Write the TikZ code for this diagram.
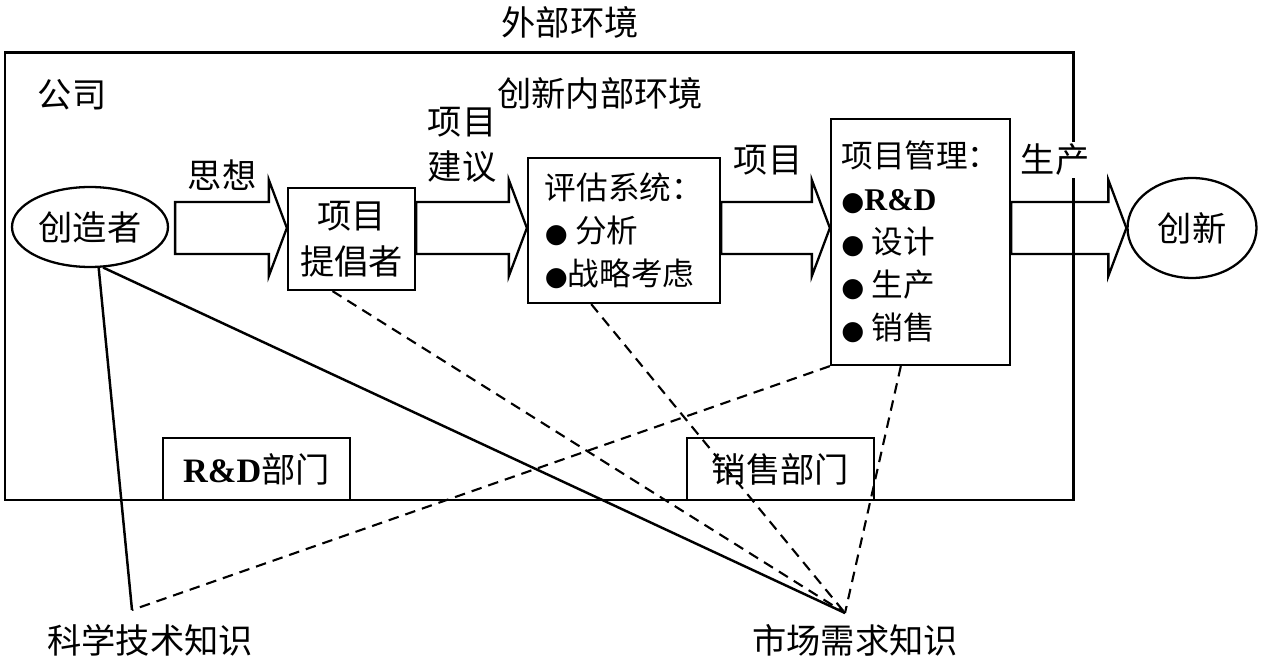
\documentclass[tikz,border=0pt]{standalone}
\usepackage{fontspec}
\setmainfont{Noto Sans CJK SC}
\newfontfamily\rdfont{Liberation Serif}
\newfontfamily\dotfont{DejaVu Sans}
\usetikzlibrary{shapes.geometric,calc}

\newcommand{\dotitem}{{\dotfont\fontsize{15}{15}\selectfont ●}}
\newcommand{\rdname}{{\rdfont\bfseries R\&D}}
% block arrow between two nodes, along the line (axis)
\newcommand{\flowarrow}[3][0]{%
  \draw[flow] ($(#2.east |- axis)+(#1,-26)$) -- ($(#3.west |- axis)+(-18,-26)$)
    -- ($(#3.west |- axis)+(-18,-48)$) -- (#3.west |- axis)
    -- ($(#3.west |- axis)+(-18,48)$) -- ($(#3.west |- axis)+(-18,26)$)
    -- ($(#2.east |- axis)+(#1,26)$) -- cycle;}

\tikzset{
  txt/.style={inner sep=1pt, font=\fontsize{19.5}{26}\selectfont},
  box/.style={draw, line width=1.3pt, inner sep=0pt, font=\fontsize{19.5}{26}\selectfont},
  listbox/.style={box, align=left, font=\fontsize{18}{24.5}\selectfont},
  oval/.style={ellipse, draw, line width=1.3pt, inner sep=0pt, font=\fontsize{19.5}{26}\selectfont},
  flow/.style={line width=1.3pt, line join=miter},
  frame/.style={line width=1.7pt},
  link/.style={line width=1.4pt},
  hint/.style={line width=1.2pt, dash pattern=on 6pt off 4pt}
}

\begin{document}
\begin{tikzpicture}[x=0.02cm, y=-0.02cm]
  \useasboundingbox (0,0) rectangle (1264,661);
  \coordinate (axis) at (0,228);

  % company frame and departments
  \draw[frame] (5,53) rectangle (1073,500);
  \node[box, minimum width=3.74cm, minimum height=1.24cm] (rdd) at (256.5,469) {\rdname 部门};
  \node[box, minimum width=3.74cm, minimum height=1.24cm] (sal) at (780.5,469) {销售部门};

  % main chain
  \node[oval, minimum width=3.12cm, minimum height=1.6cm] (cre) at (90,227) {创造者};
  \node[box, align=center, minimum width=2.54cm, minimum height=2.04cm] (pro) at (351.5,239) {项目\\提倡者};
  \node[listbox, minimum width=3.84cm, minimum height=2.9cm] (eva) at (624,230.5) {评估系统：\\\dotitem\ 分析\\\dotitem 战略考虑};
  \node[listbox, minimum width=3.58cm, minimum height=4.92cm] (pm) at (920.5,242) {项目管理：\\\dotitem\rdname\\\dotitem\ 设计\\\dotitem\ 生产\\\dotitem\ 销售};
  \node[oval, minimum width=2.58cm, minimum height=2cm] (inn) at (1192,228) {创新};

  \flowarrow[6]{cre}{pro}
  \flowarrow{pro}{eva}
  \flowarrow{eva}{pm}
  \flowarrow{pm}{inn}

  % knowledge sources
  \coordinate (sk) at (132,610);
  \coordinate (mk) at (845,613);
  \draw[link] (cre.-78) -- (sk);
  \draw[link] (cre.-72) -- (mk);
  \draw[hint] (pm.south west) -- (sk);
  \draw[hint] (pro.-110) -- (mk);
  \draw[hint] (eva.-114) -- (mk);
  \draw[hint] (pm.-99) -- (mk);

  % labels
  \node[txt] (ext) at (570,22) {外部环境};
  \node[txt] (firm) at (72,95) {公司};
  \node[txt] (env) at (600,93) {创新内部环境};
  \node[txt] (idea) at (222,175) {思想};
  \node[txt, align=center] (prop) at (462,145) {项目\\建议};
  \node[txt] (proj) at (768,160) {项目};
  \node[txt, fill=white] (prod) at (1055,160) {生产};
  \node[txt] (skl) at (150,640) {科学技术知识};
  \node[txt] (mkl) at (855,640) {市场需求知识};
\end{tikzpicture}
\end{document}
